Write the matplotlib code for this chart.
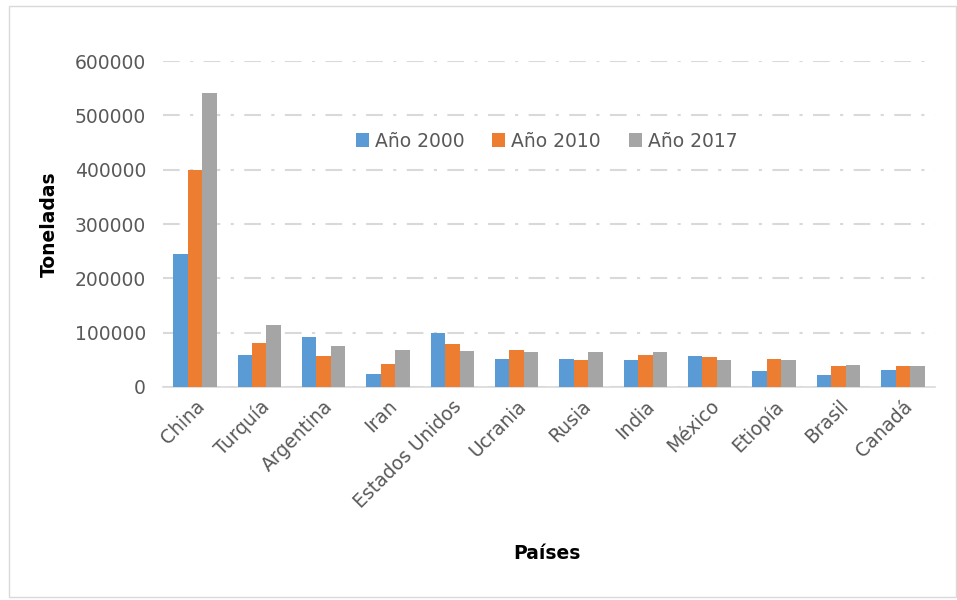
import numpy as np
import matplotlib.pyplot as plt
from matplotlib.patches import Rectangle

plt.rcParams['font.family'] = ['DejaVu Sans']

paises = ['China', 'Turquía', 'Argentina', 'Iran', 'Estados Unidos', 'Ucrania',
          'Rusia', 'India', 'México', 'Etiopía', 'Brasil', 'Canadá']
anio_2000 = [245000, 59500, 92000, 24000, 99500, 52000, 52000, 50000, 57000, 29000, 21500, 31000]
anio_2010 = [400000, 81000, 57000, 43000, 78500, 69000, 50000, 59500, 54500, 52000, 38000, 38000]
anio_2017 = [541000, 113500, 75500, 69000, 66000, 64000, 64000, 64000, 50000, 50000, 40500, 38000]
series = ['Año 2000', 'Año 2010', 'Año 2017']
colores = ['#5B9BD5', '#ED7D31', '#A5A5A5']

fig = plt.figure(figsize=(9.57, 6), dpi=100)
ax = fig.add_axes([0.170, 0.355, 0.807, 0.543])

x = np.arange(len(paises))
w = 0.225
for i, (vals, lab, c) in enumerate(zip([anio_2000, anio_2010, anio_2017], series, colores)):
    ax.bar(x + (i - 1) * w, vals, w, color=c, label=lab, zorder=3)

ax.set_xlim(-0.5, len(paises) - 0.5)
ax.set_ylim(0, 600000)
ax.set_yticks(np.arange(0, 600001, 100000))
ax.set_yticklabels([f'{v:d}' for v in range(0, 600001, 100000)])
ax.set_xticks(x)
ax.set_xticklabels(paises, rotation=45, ha='right', rotation_mode='anchor')
ax.tick_params(axis='both', length=0, labelsize=13.5, labelcolor='#595959')
ax.tick_params(axis='y', pad=12)
ax.tick_params(axis='x', pad=7)

ax.grid(axis='y', color='#d9d9d9', linewidth=1.5, linestyle=(0, (8, 5, 1.5, 5)), zorder=0)
for s in ['top', 'right', 'left']:
    ax.spines[s].set_visible(False)
ax.spines['bottom'].set_color('#d9d9d9')
ax.spines['bottom'].set_linewidth(1.2)

ax.set_ylabel('Toneladas', fontsize=13.5, fontweight='bold', labelpad=11)
fig.text(0.572, 0.078, 'Países', fontsize=13.5, fontweight='bold', ha='center', va='center')

ax.legend(loc='center', bbox_to_anchor=(0.497, 0.755), ncol=3, frameon=False,
          fontsize=13.5, handlelength=0.7, handleheight=0.7, handletextpad=0.3,
          columnspacing=1.5, labelcolor='#595959')

fig.patches.append(Rectangle((0.009, 0.005), 0.99, 0.985, transform=fig.transFigure,
                             fill=False, edgecolor='#d9d9d9', linewidth=1))

fig.savefig('out.png', dpi=100)
